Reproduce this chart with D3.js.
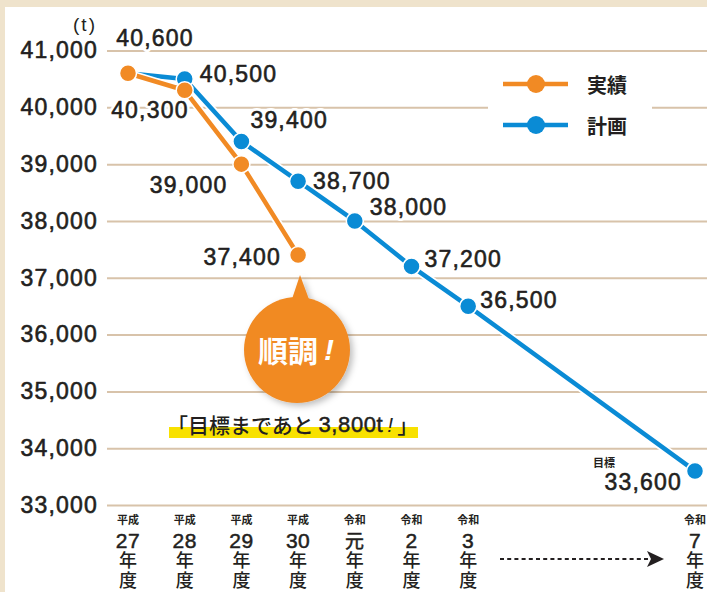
<!DOCTYPE html>
<html>
<head>
<meta charset="utf-8">
<script src="https://cdn.jsdelivr.net/npm/d3@7"></script>
<style>
  body { margin: 0; background: #efe3cc; }
  svg { display: block; }
</style>
</head>
<body>
<svg id="chart" width="707" height="592"></svg>
<script>
// data
const eras = ["平成", "平成", "平成", "平成", "令和", "令和", "令和", "令和"];
const years = ["27", "28", "29", "30", "元", "2", "3", "7"];
const slots = [0, 1, 2, 3, 4, 5, 6, 10]; // R4-R6 are skipped on the axis
const actual = [40600, 40300, 39000, 37400];
const plan = [40600, 40500, 39400, 38700, 38000, 37200, 36500, 33600];
const yTicks = [33000, 34000, 35000, 36000, 37000, 38000, 39000, 40000, 41000];
const seriesNames = ["実績", "計画"];

// label placement (dx, dy, anchor) next to each point
const actualLabelPos = [[27, -35, "middle"], [4, 20, "end"], [-14, 21, "end"], [-17, 2, "end"]];
const planLabelPos = [null, [15, -5, "start"], [9, -21, "start"], [15, 0, "start"],
                      [15, -14, "start"], [13, -7, "start"], [12, -6, "start"], [-13, 11, "end"]];

const ORANGE = "#f18a24";
const BLUE = "#0a8bd5";
const INK = "#231f20";
const GRID = "#d8c3aa";
const NUMFONT = "'Liberation Sans', Arial, 'Noto Sans CJK JP', sans-serif";
const JPFONT = "'Noto Sans CJK JP', sans-serif";

const svg = d3.select("#chart");
const fmt = d3.format(",");

// make regular Liberation digits look medium weight
function medium(sel, w) {
    return sel.attr("stroke", INK).attr("stroke-width", w || 0.6).attr("stroke-linejoin", "round");
}

// white panel on the beige paper
svg.append("rect").attr("x", 5).attr("y", 7).attr("width", 702).attr("height", 585).attr("fill", "#fff");

const x = d3.scaleLinear().domain([0, 10]).range([128, 695]);
const y = d3.scaleLinear().domain([33000, 41000]).range([505, 50.5]);

// y axis + gridlines
const yAxis = svg.append("g")
    .attr("transform", "translate(107,0)")
    .call(d3.axisLeft(y).tickValues(yTicks).tickFormat(fmt).tickSize(-600).tickPadding(9));
yAxis.select(".domain").remove();
yAxis.selectAll("line").attr("stroke", GRID).attr("stroke-width", 2);
medium(yAxis.selectAll("text")
    .attr("fill", INK)
    .style("font-family", NUMFONT)
    .style("font-size", "23px")
    .style("letter-spacing", "1.2px"));

svg.append("text")
    .attr("x", 85).attr("y", 31)
    .attr("text-anchor", "middle")
    .attr("fill", INK)
    .style("font-family", NUMFONT)
    .style("font-size", "19px")
    .style("letter-spacing", "2px")
    .text("(t)");

// legend (white box hides the grid behind it)
svg.append("rect").attr("x", 488).attr("y", 60).attr("width", 164).attr("height", 90).attr("fill", "#fff");
const legend = svg.append("g");
[ORANGE, BLUE].forEach(function(c, i) {
    let ly = 84 + i * 41;
    legend.append("line").attr("x1", 503).attr("x2", 568).attr("y1", ly).attr("y2", ly)
        .attr("stroke", c).attr("stroke-width", 4.5);
    legend.append("circle").attr("cx", 536).attr("cy", ly).attr("r", 9).attr("fill", c);
    legend.append("text").attr("x", 587).attr("y", ly)
        .attr("dominant-baseline", "central")
        .attr("fill", INK)
        .style("font-family", JPFONT)
        .style("font-size", "20px")
        .style("font-weight", "bold")
        .text(seriesNames[i]);
});

// x axis labels
const xLab = svg.append("g").selectAll("g")
    .data(years)
    .join("g")
    .attr("transform", function(d, i) { return `translate(${x(slots[i])},0)`; })
    .attr("text-anchor", "middle")
    .attr("fill", INK);
xLab.append("text").attr("y", 524).style("font-family", JPFONT).style("font-size", "11px")
    .style("font-weight", "bold").text(function(d, i) { return eras[i]; });
medium(xLab.append("text").attr("y", 548).style("font-family", NUMFONT).style("font-size", "21px")
    .style("letter-spacing", "0.5px").text(function(d) { return d; }), 0.5)
    .filter(function(d) { return d === "元"; }).style("font-family", JPFONT).style("font-size", "19px");
// 年度 stacked vertically
xLab.append("text")
    .attr("x", 0).attr("y", 551)
    .attr("text-anchor", "start")
    .style("writing-mode", "vertical-rl")
    .style("font-family", JPFONT).style("font-size", "18px")
    .style("font-weight", "500").style("letter-spacing", "2px")
    .text("年度");

// dashed arrow towards R7
svg.append("line").attr("x1", 500).attr("x2", 650).attr("y1", 559).attr("y2", 559)
    .attr("stroke", INK).attr("stroke-width", 2).attr("stroke-dasharray", "4,3.2");
svg.append("path").attr("d", "M647,551 L664,559 L647,567 L651,559 Z").attr("fill", INK);

// lines
const line = d3.line()
    .x(function(d) { return x(slots[d.i]); })
    .y(function(d) { return y(d.v); });

function drawSeries(values, color) {
    let pts = values.map(function(v, i) { return {v: v, i: i}; });
    let g = svg.append("g");
    g.append("path").attr("d", line(pts)).attr("fill", "none")
        .attr("stroke", "#fff").attr("stroke-width", 8).attr("stroke-linejoin", "round");
    g.append("path").attr("d", line(pts)).attr("fill", "none")
        .attr("stroke", color).attr("stroke-width", 4.5).attr("stroke-linejoin", "round");
    g.selectAll("circle").data(pts).join("circle")
        .attr("cx", function(d) { return x(slots[d.i]); })
        .attr("cy", function(d) { return y(d.v); })
        .attr("r", 8.5)
        .attr("fill", color)
        .attr("stroke", "#fff").attr("stroke-width", 1.5);
    return pts;
}

// labels go first so the lines sit on top of their white halos
const labels = svg.append("g");
drawSeries(plan, BLUE);
drawSeries(actual, ORANGE);

function drawLabels(values, pos) {
    values.forEach(function(v, i) {
        if (!pos[i]) return;
        [["#fff", 6], [INK, 0.6]].forEach(function(s) {
            labels.append("text")
                .attr("x", x(slots[i]) + pos[i][0])
                .attr("y", y(v) + pos[i][1])
                .attr("dominant-baseline", "central")
                .attr("text-anchor", pos[i][2])
                .attr("fill", INK)
                .attr("stroke", s[0]).attr("stroke-width", s[1]).attr("stroke-linejoin", "round")
                .style("font-family", NUMFONT)
                .style("font-size", "23px")
                .style("letter-spacing", "1.2px")
                .text(fmt(v));
        });
    });
}
drawLabels(actual, actualLabelPos);
drawLabels(plan, planLabelPos);

// "目標" over the last plan point
labels.append("text")
    .attr("x", 593).attr("y", 467)
    .attr("fill", INK)
    .style("font-family", JPFONT).style("font-size", "11px").style("font-weight", "bold")
    .text("目標");

// speech badge
const defs = svg.append("defs");
const shadow = defs.append("filter").attr("id", "shadow").attr("x", "-30%").attr("y", "-30%")
    .attr("width", "160%").attr("height", "160%");
shadow.append("feDropShadow").attr("dx", 3).attr("dy", 3).attr("stdDeviation", 3)
    .attr("flood-color", "#000").attr("flood-opacity", 0.25);

const badge = svg.append("g").attr("filter", "url(#shadow)");
badge.append("path").attr("d", "M300,275 L291,302 L310,302 Z").attr("fill", ORANGE);
badge.append("circle").attr("cx", 297).attr("cy", 350).attr("r", 53).attr("fill", ORANGE);
const badgeText = svg.append("text")
    .attr("x", 258).attr("y", 349)
    .attr("dominant-baseline", "central")
    .attr("fill", "#fff")
    .style("font-family", JPFONT).style("font-size", "30px").style("font-weight", "bold");
badgeText.append("tspan").text("順調");
badgeText.append("tspan").attr("dx", 6)
    .style("font-family", NUMFONT).style("font-style", "italic").text("!");

// target note with yellow marker
svg.append("rect").attr("x", 169).attr("y", 427).attr("width", 249).attr("height", 11).attr("fill", "#f8e100");
const note = svg.append("text")
    .attr("x", 167).attr("y", 424)
    .attr("dominant-baseline", "central")
    .attr("fill", INK)
    .style("font-family", JPFONT)
    .style("font-size", "21px")
    .style("font-weight", "500");
note.append("tspan").text("「目標まであと ");
medium(note.append("tspan").style("font-family", NUMFONT).style("font-size", "22px")
    .style("letter-spacing", "0.6px").text("3,800t"), 0.5);
note.append("tspan").attr("dx", 4).style("font-family", NUMFONT).style("font-style", "italic").text("!");
note.append("tspan").attr("dx", 4).text("」");
</script>
</body>
</html>
